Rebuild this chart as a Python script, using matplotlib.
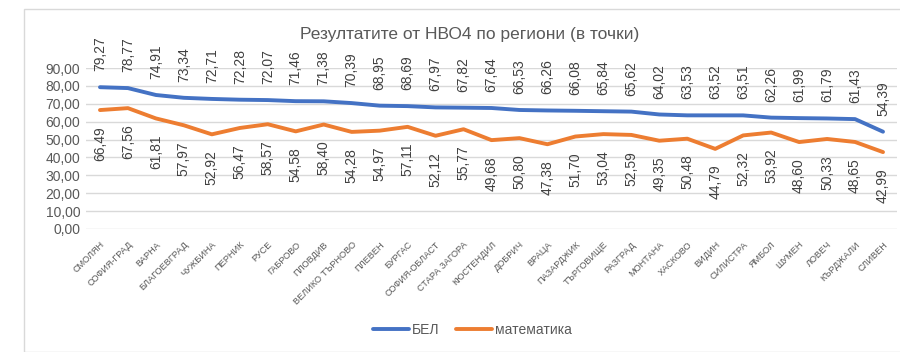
import matplotlib.pyplot as plt
from matplotlib.patches import Rectangle

plt.rcParams['font.family'] = ['Liberation Sans', 'DejaVu Sans']

regions = ['СМОЛЯН', 'СОФИЯ-ГРАД', 'ВАРНА', 'БЛАГОЕВГРАД', 'ЧУЖБИНА', 'ПЕРНИК', 'РУСЕ',
           'ГАБРОВО', 'ПЛОВДИВ', 'ВЕЛИКО ТЪРНОВО', 'ПЛЕВЕН', 'БУРГАС', 'СОФИЯ-ОБЛАСТ',
           'СТАРА ЗАГОРА', 'КЮСТЕНДИЛ', 'ДОБРИЧ', 'ВРАЦА', 'ПАЗАРДЖИК', 'ТЪРГОВИЩЕ',
           'РАЗГРАД', 'МОНТАНА', 'ХАСКОВО', 'ВИДИН', 'СИЛИСТРА', 'ЯМБОЛ', 'ШУМЕН',
           'ЛОВЕЧ', 'КЪРДЖАЛИ', 'СЛИВЕН']
bel = [79.27, 78.77, 74.91, 73.34, 72.71, 72.28, 72.07, 71.46, 71.38, 70.39, 68.95,
       68.69, 67.97, 67.82, 67.64, 66.53, 66.26, 66.08, 65.84, 65.62, 64.02, 63.53,
       63.52, 63.51, 62.26, 61.99, 61.79, 61.43, 54.39]
math = [66.49, 67.56, 61.81, 57.97, 52.92, 56.47, 58.57, 54.58, 58.40, 54.28, 54.97,
        57.11, 52.12, 55.77, 49.68, 50.80, 47.38, 51.70, 53.04, 52.59, 49.35, 50.48,
        44.79, 52.32, 53.92, 48.60, 50.33, 48.65, 42.99]
yticks = [0, 10, 20, 30, 40, 50, 60, 70, 80, 90]

blue = '#4472C4'
orange = '#ED7D31'
grey = '#595959'

def fmt(v):
    return f'{v:.2f}'.replace('.', ',')

fig = plt.figure(figsize=(9, 3.52), dpi=100)
fig.patches.append(Rectangle((24 / 900, 0), 1, 1 - 9 / 352, transform=fig.transFigure,
                             fill=False, edgecolor='#D9D9D9', linewidth=1))
ax = fig.add_axes([86 / 900, 1 - 229 / 352, (897 - 86) / 900, (229 - 68) / 352])

x = list(range(len(regions)))
ax.plot(x, bel, color=blue, linewidth=2.8, solid_capstyle='round', label='БЕЛ', zorder=3)
ax.plot(x, math, color=orange, linewidth=2.8, solid_capstyle='round', label='математика', zorder=3)

# data labels: БЕЛ above, математика below
for i in x:
    ax.annotate(fmt(bel[i]), (i, bel[i]), xytext=(0, 11.5), textcoords='offset points',
                rotation=90, ha='center', va='bottom', fontsize=10, color='#404040',
                annotation_clip=False)
    ax.annotate(fmt(math[i]), (i, math[i]), xytext=(0, -11.5), textcoords='offset points',
                rotation=90, ha='center', va='top', fontsize=10, color='#404040',
                annotation_clip=False)

ax.set_xlim(-0.5, len(regions) - 0.5)
ax.set_ylim(0, 90)
ax.set_yticks(yticks)
ax.set_yticklabels([fmt(v) for v in yticks], fontsize=10, color=grey)
ax.set_xticks(x)
ax.set_xticklabels(regions, rotation=45, ha='right', rotation_mode='anchor',
                   fontsize=6.6, color=grey)
ax.tick_params(axis='y', length=0, pad=4)
ax.tick_params(axis='x', length=0, pad=8)
ax.grid(axis='y', color='#D9D9D9', linewidth=1)
ax.set_axisbelow(True)
for s in ax.spines.values():
    s.set_visible(False)

fig.text(470 / 900, 1 - 35 / 352, 'Резултатите от НВО4 по региони (в точки)',
         ha='center', va='center', fontsize=12.5, color=grey)
fig.legend(loc='center', bbox_to_anchor=(472 / 900, 1 - 330 / 352), ncol=2, frameon=False,
           fontsize=10, labelcolor=grey, handlelength=2.6, columnspacing=1.2, handletextpad=0.2)

fig.savefig('out.png', dpi=100)
